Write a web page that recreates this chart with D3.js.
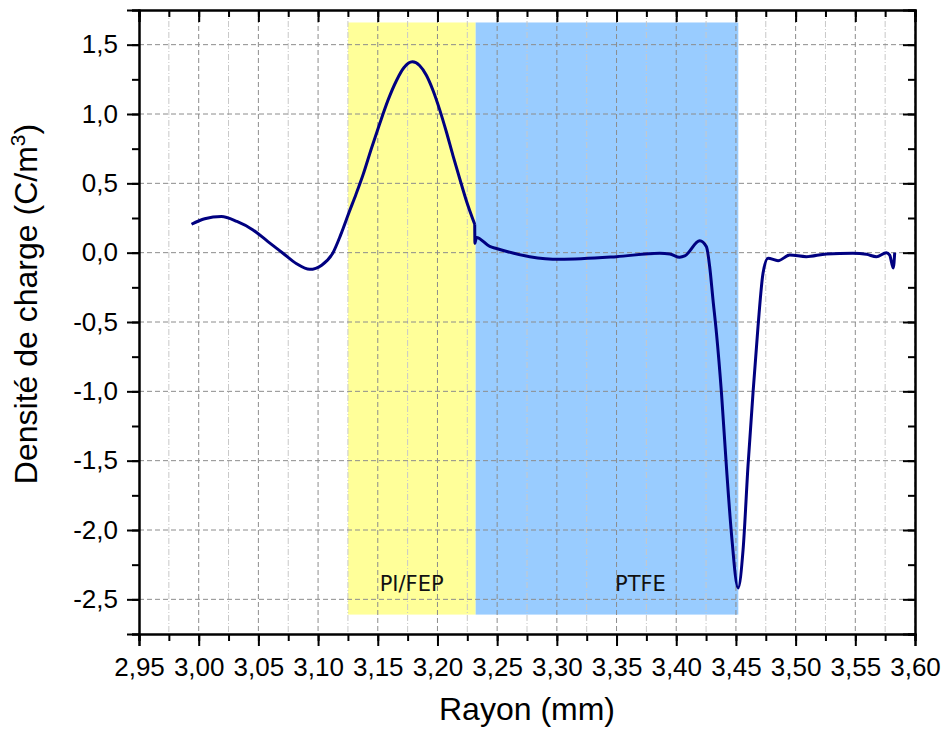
<!DOCTYPE html>
<html>
<head>
<meta charset="utf-8">
<script src="https://cdn.jsdelivr.net/npm/d3@7"></script>
<style>
  body { margin: 0; background: #fff; }
</style>
</head>
<body>
<div id="chart"></div>
<script>
// rayon (mm) and densité de charge (C/m3)
const rayon = [2.994, 3.005, 3.019, 3.032, 3.0455, 3.058, 3.0706, 3.082, 3.093, 3.103, 3.1125, 3.119,
  3.1259, 3.1317, 3.1376, 3.1446, 3.1516, 3.1586, 3.1656, 3.172, 3.179, 3.185, 3.1907, 3.1963, 3.2019,
  3.2075, 3.213, 3.2186, 3.2242, 3.2312, 3.2314, 3.2326, 3.2438, 3.2494,
  3.2773, 3.3024, 3.3499, 3.3862, 3.3946, 3.4029, 3.4071, 3.4197, 3.4253, 3.428, 3.4308, 3.4337,
  3.4379, 3.442, 3.4462, 3.4518, 3.456, 3.4601, 3.4643, 3.4685, 3.4727, 3.4769, 3.4853, 3.4951,
  3.509, 3.5258, 3.548, 3.5593, 3.5677, 3.576, 3.5788, 3.5818, 3.583];
const densite = [0.205, 0.245, 0.26, 0.225, 0.164, 0.08, -0.004, -0.08, -0.12, -0.09, 0.0, 0.13,
  0.29, 0.42, 0.56, 0.75, 0.93, 1.10, 1.24, 1.335, 1.376, 1.35, 1.28, 1.17, 1.03,
  0.87, 0.70, 0.535, 0.375, 0.205, 0.068, 0.11, 0.045, 0.03,
  -0.029, -0.048, -0.029, -0.004, -0.009, -0.033, -0.024, 0.086, 0.043, -0.10, -0.34, -0.58,
  -1.013, -1.54, -2.02, -2.418, -2.142, -1.54, -1.013, -0.533, -0.148, -0.04, -0.058, -0.017,
  -0.029, -0.009, -0.005, -0.012, -0.029, 0.0, -0.017, -0.11, 0.0];

// shaded zones
const zoneNames = ["PI/FEP", "PTFE"];
const zoneStart = [3.125, 3.232];
const zoneEnd = [3.232, 3.452];
const zoneLabelX = [3.1784, 3.37];
const zoneColors = ["#ffff99", "#99ccff"];
const zoneTop = 1.66, zoneBottom = -2.61;

const xTicks = d3.range(2.95, 3.6001, 0.05);
const yTicks = [-2.5, -2.0, -1.5, -1.0, -0.5, 0.0, 0.5, 1.0, 1.5];

var margin = { top: 10, right: 30, bottom: 99, left: 139 },
    width = 945 - margin.left - margin.right,
    height = 733 - margin.top - margin.bottom;

var svg = d3.select("#chart")
    .append("svg")
    .attr("width", 945)
    .attr("height", 733)
    .append("g")
    .attr("transform", "translate(" + margin.left + "," + margin.top + ")");

var x = d3.scaleLinear().domain([2.95, 3.60]).range([0, width]);
var y = d3.scaleLinear().domain([-2.75, 1.75]).range([height, 0]);

const fmt = d => d3.format(".2f")(d).replace(".", ",");
const fmtY = d => d3.format(".1f")(d).replace(".", ",").replace("−", "-");

// zones
svg.selectAll(".zone")
    .data(zoneNames)
    .enter()
    .append("rect")
    .attr("x", (d, i) => x(zoneStart[i]))
    .attr("width", (d, i) => x(zoneEnd[i]) - x(zoneStart[i]))
    .attr("y", y(zoneTop))
    .attr("height", y(zoneBottom) - y(zoneTop))
    .attr("fill", (d, i) => zoneColors[i]);

// minor vertical grid (dash-dot)
const xMinor = d3.range(2.975, 3.6, 0.05);
svg.append("g")
    .selectAll("line")
    .data(xMinor)
    .enter()
    .append("line")
    .attr("x1", d => x(d)).attr("x2", d => x(d))
    .attr("y1", 0).attr("y2", height)
    .attr("stroke", "#c8c8c8")
    .attr("stroke-width", 1)
    .attr("stroke-dasharray", "6,2,1,2");

// major grid
svg.append("g")
    .selectAll("line")
    .data(xTicks.slice(1))
    .enter()
    .append("line")
    .attr("x1", d => x(d)).attr("x2", d => x(d))
    .attr("y1", 0).attr("y2", height)
    .attr("stroke", "#8c8c8c")
    .attr("stroke-width", 1)
    .attr("stroke-dasharray", "5,3");

svg.append("g")
    .selectAll("line")
    .data(yTicks)
    .enter()
    .append("line")
    .attr("x1", 0).attr("x2", width)
    .attr("y1", d => y(d)).attr("y2", d => y(d))
    .attr("stroke", "#8c8c8c")
    .attr("stroke-width", 1)
    .attr("stroke-dasharray", "5,3");

// zone labels
svg.selectAll(".zlabel")
    .data(zoneNames)
    .enter()
    .append("text")
    .attr("x", (d, i) => x(zoneLabelX[i]))
    .attr("y", y(-2.5) - 8)
    .attr("text-anchor", "middle")
    .style("font-family", "DejaVu Sans")
    .style("font-size", "21px")
    .attr("fill", "#111")
    .text(d => d);

// curve, split at the jump at the PI/FEP - PTFE interface so the smooth part has no overshoot
const pts = rayon.map((r, i) => [r, densite[i]]);
let k = 0;
for (let i = 0; i < pts.length - 1; i++) {
    const s = (pts[i + 1][1] - pts[i][1]) / (pts[i + 1][0] - pts[i][0]);
    if (Math.abs(s) > 300) { k = i; break; }
}
const pieces = k > 0 ? [pts.slice(0, k + 1), pts.slice(k)] : [pts];
var line = d3.line()
    .x(d => x(d[0]))
    .y(d => y(d[1]))
    .curve(d3.curveMonotoneX);
svg.append("path")
    .attr("fill", "none")
    .attr("stroke", "#000080")
    .attr("stroke-width", 3)
    .attr("stroke-linejoin", "round")
    .attr("d", pieces.map(p => line(p)).join(""));

// axes
function styleAxis(g) {
    g.selectAll(".domain").attr("stroke", "#000").attr("stroke-width", 2);
    g.selectAll(".tick line").attr("stroke", "#000").attr("stroke-width", 2);
    g.selectAll("text").style("font-family", "Liberation Sans, Arial").style("font-size", "26px").attr("fill", "#000");
}

const xMinorAll = d3.range(2.95, 3.6001, 0.025);
const yMinorAll = d3.range(-2.75, 1.7501, 0.25);

// minor ticks
svg.append("g").attr("transform", "translate(0," + height + ")")
    .call(d3.axisBottom(x).tickValues(xMinorAll).tickSize(7).tickFormat(""))
    .call(styleAxis);
svg.append("g")
    .call(d3.axisTop(x).tickValues(xMinorAll).tickSize(-7).tickFormat(""))
    .call(styleAxis);
svg.append("g")
    .call(d3.axisLeft(y).tickValues(yMinorAll).tickSize(7).tickFormat(""))
    .call(styleAxis);
svg.append("g").attr("transform", "translate(" + width + ",0)")
    .call(d3.axisRight(y).tickValues(yMinorAll).tickSize(-7).tickFormat(""))
    .call(styleAxis);

// major ticks
svg.append("g").attr("transform", "translate(0," + height + ")")
    .call(d3.axisBottom(x).tickValues(xTicks).tickSize(12).tickPadding(12).tickFormat(fmt))
    .call(styleAxis);
svg.append("g")
    .call(d3.axisTop(x).tickValues(xTicks).tickSize(-12).tickFormat(""))
    .call(styleAxis);
svg.append("g")
    .call(d3.axisLeft(y).tickValues(yTicks).tickSize(12).tickPadding(9).tickFormat(fmtY))
    .call(styleAxis);
svg.append("g").attr("transform", "translate(" + width + ",0)")
    .call(d3.axisRight(y).tickValues(yTicks).tickSize(-12).tickFormat(""))
    .call(styleAxis);

// axis titles
svg.append("text")
    .attr("x", width / 2)
    .attr("y", height + 86)
    .attr("text-anchor", "middle")
    .style("font-family", "Liberation Sans, Arial")
    .style("font-size", "32px")
    .text("Rayon (mm)");

var yt = svg.append("text")
    .attr("transform", "translate(-102," + (height / 2 - 18) + ") rotate(-90)")
    .attr("text-anchor", "middle")
    .style("font-family", "Liberation Sans, Arial")
    .style("font-size", "32px");
yt.append("tspan").text("Densité de charge (C/m");
yt.append("tspan").attr("dy", -12).style("font-size", "21px").text("3");
yt.append("tspan").attr("dy", 12).text(")");
</script>
</body>
</html>
